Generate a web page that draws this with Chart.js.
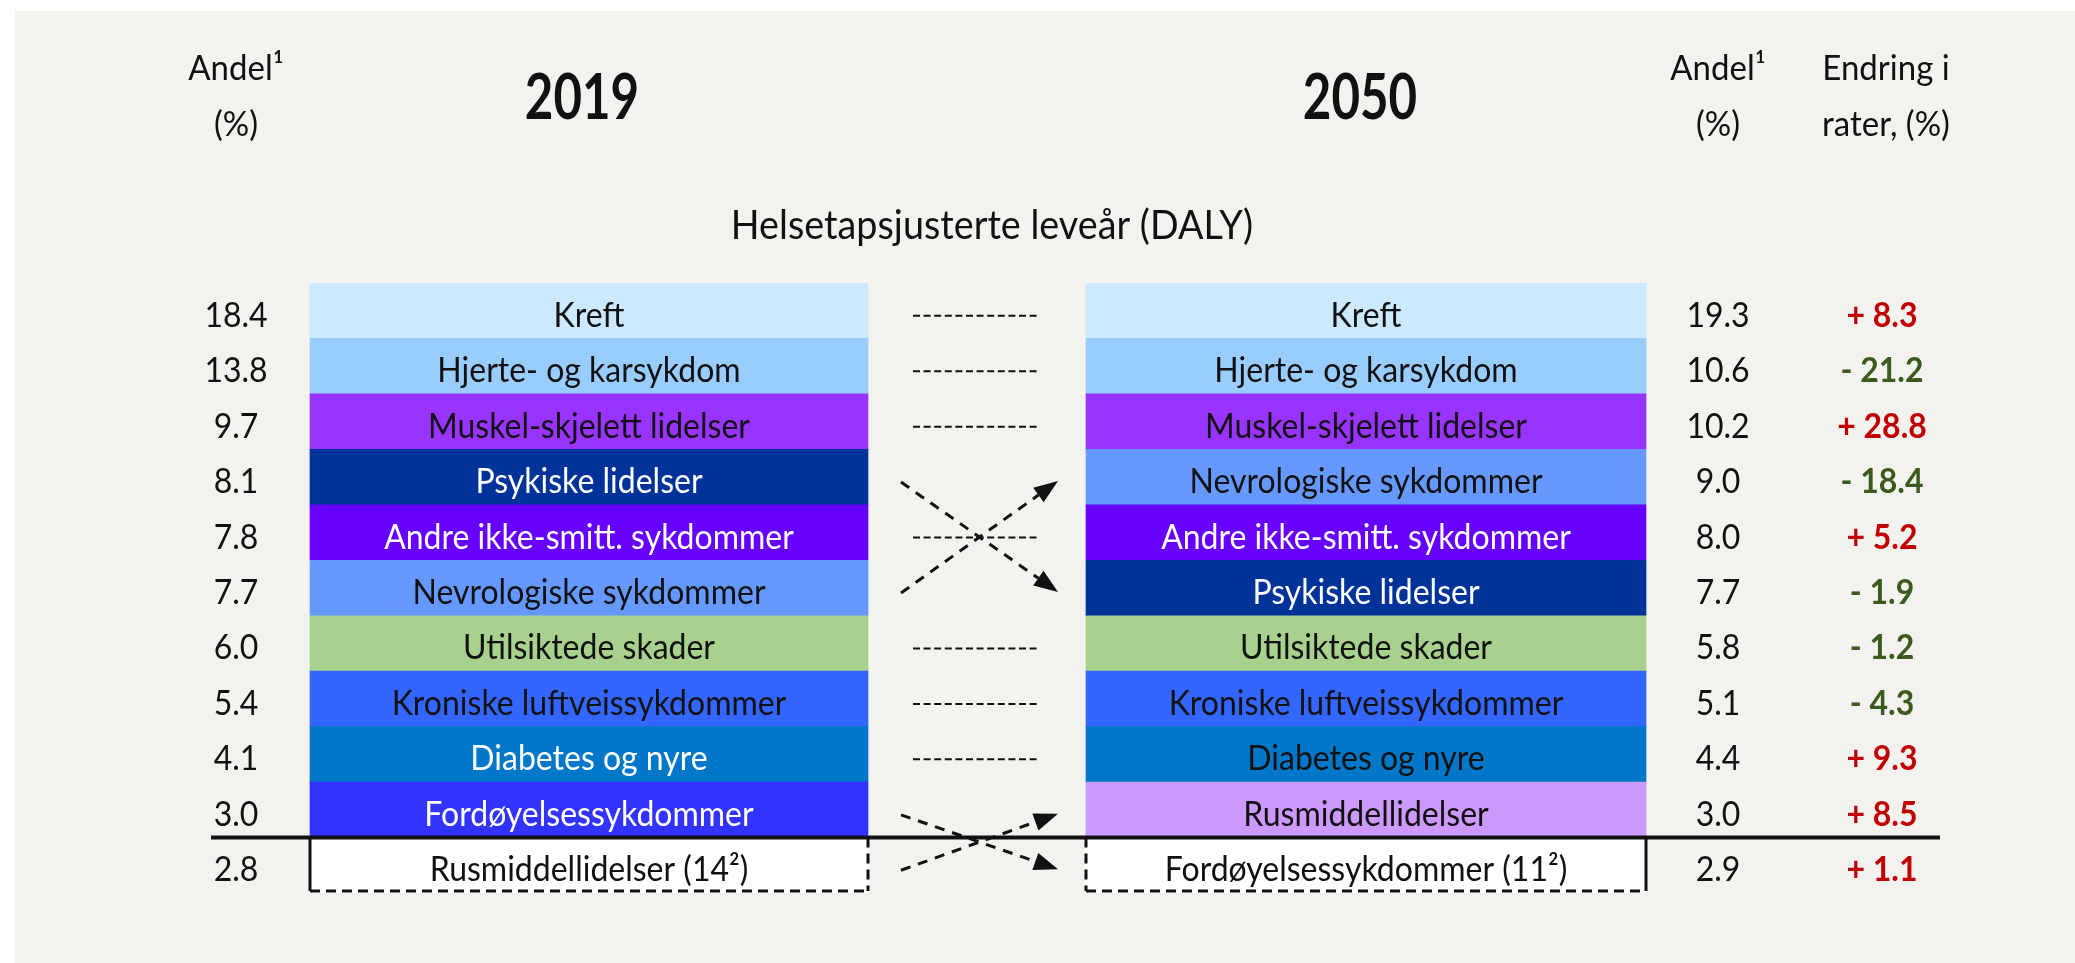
<!DOCTYPE html>
<html><head><meta charset="utf-8">
<script src="https://cdn.jsdelivr.net/npm/chart.js@4/dist/chart.umd.min.js"></script>
<style>html,body{margin:0;padding:0;background:#fff;}canvas{display:block;}</style>
</head><body>
<canvas id="c" width="2075" height="963"></canvas>
<script>
// ---- data ----
const causes2019 = ["Kreft","Hjerte- og karsykdom","Muskel-skjelett lidelser","Psykiske lidelser","Andre ikke-smitt. sykdommer","Nevrologiske sykdommer","Utilsiktede skader","Kroniske luftveissykdommer","Diabetes og nyre","Fordøyelsessykdommer","Rusmiddellidelser"];
const rankNote2019 = ["","","","","","","","","","","14²"];
const share2019 = [18.4,13.8,9.7,8.1,7.8,7.7,6.0,5.4,4.1,3.0,2.8];
const causes2050 = ["Kreft","Hjerte- og karsykdom","Muskel-skjelett lidelser","Nevrologiske sykdommer","Andre ikke-smitt. sykdommer","Psykiske lidelser","Utilsiktede skader","Kroniske luftveissykdommer","Diabetes og nyre","Rusmiddellidelser","Fordøyelsessykdommer"];
const rankNote2050 = ["","","","","","","","","","","11²"];
const share2050 = [19.3,10.6,10.2,9.0,8.0,7.7,5.8,5.1,4.4,3.0,2.9];
const rateChange = [8.3,-21.2,28.8,-18.4,5.2,-1.9,-1.2,-4.3,9.3,8.5,1.1];
const rowLabels = ["1","2","3","4","5","6","7","8","9","10","11"];
const headerShare = ["Andel¹","(%)"];
const headerChange = ["Endring i","rater, (%)"];
const yearLeft = "2019", yearRight = "2050";
const subtitle = "Helsetapsjusterte leveår (DALY)";

// ---- styles ----
const fill2019 = ["#cce9ff","#99ccff","#9933ff","#003399","#6600ff","#6699ff","#a9d18e","#3366ff","#0077c8","#3333ff","#ffffff"];
const fill2050 = ["#cce9ff","#99ccff","#9933ff","#6699ff","#6600ff","#003399","#a9d18e","#3366ff","#0077c8","#cc99ff","#ffffff"];
const ink2019 = ["#111","#111","#111","#fff","#fff","#111","#111","#111","#fff","#fff","#111"];
const ink2050 = ["#111","#111","#111","#111","#fff","#fff","#111","#111","#111","#111","#111"];
const BOX_LEFT = [310, 868];
const BOX_RIGHT = [1086, 1646];
const X_SHARE_L = 236, X_SHARE_R = 1718, X_CHANGE = 1882;
const FONT = "Lato";
const BG = "#f3f2ef";

function stretchedText(ctx, txt, x, y, sx, sy){
  ctx.save();
  ctx.translate(x, y);
  ctx.scale(sx, sy);
  ctx.fillText(txt, 0, 0);
  ctx.restore();
}

function build(){
  const ctxEl = document.getElementById('c');
  const tableDeco = {
    id:'tableDeco',
    beforeDraw(chart){
      const ctx = chart.ctx;
      ctx.save();
      ctx.fillStyle = '#fff'; ctx.fillRect(0,0,chart.width,chart.height);
      ctx.fillStyle = BG; ctx.fillRect(15,11,chart.width-15,chart.height-11);
      ctx.restore();
    },
    afterDatasetsDraw(chart){
      const ctx = chart.ctx;
      const ys = chart.scales.y;
      const rowY = i => ys.getPixelForValue(i);
      const SY = 1.07;
      ctx.save();
      ctx.textAlign = 'center';
      ctx.textBaseline = 'middle';
      // headers
      ctx.fillStyle = '#111';
      ctx.font = `33px ${FONT}`;
      stretchedText(ctx, headerShare[0], X_SHARE_L, 69, 1, SY);
      stretchedText(ctx, headerShare[1], X_SHARE_L, 125, 1, SY);
      stretchedText(ctx, headerShare[0], X_SHARE_R, 69, 1, SY);
      stretchedText(ctx, headerShare[1], X_SHARE_R, 125, 1, SY);
      stretchedText(ctx, headerChange[0], X_CHANGE+4, 69, 1, SY);
      stretchedText(ctx, headerChange[1], X_CHANGE+4, 125, 1, SY);
      ctx.font = `37px ${FONT}`;
      stretchedText(ctx, subtitle, 992, 226, 1.02, SY);
      ctx.font = `bold 56px ${FONT}`;
      stretchedText(ctx, yearLeft, (BOX_LEFT[0]+BOX_LEFT[1])/2 - 7, 99, 0.88, 1.12);
      stretchedText(ctx, yearRight, (BOX_RIGHT[0]+BOX_RIGHT[1])/2 - 6, 99, 0.88, 1.12);

      const m0 = chart.getDatasetMeta(0), m1 = chart.getDatasetMeta(1);
      // bar texts and values
      for(let i=0;i<causes2019.length;i++){
        const y = rowY(i)+5;
        const e0 = m0.data[i], e1 = m1.data[i];
        ctx.font = `32px ${FONT}`;
        ctx.fillStyle = ink2019[i];
        stretchedText(ctx, causes2019[i] + (rankNote2019[i] ? ` (${rankNote2019[i]})` : ''), (e0.x+e0.base)/2, y, 1, SY);
        ctx.fillStyle = ink2050[i];
        stretchedText(ctx, causes2050[i] + (rankNote2050[i] ? ` (${rankNote2050[i]})` : ''), (e1.x+e1.base)/2, y, 1, SY);
        ctx.fillStyle = '#111';
        stretchedText(ctx, share2019[i].toFixed(1), X_SHARE_L, y, 1, SY);
        stretchedText(ctx, share2050[i].toFixed(1), X_SHARE_R, y, 1, SY);
        const v = rateChange[i];
        ctx.font = `bold 32px ${FONT}`;
        ctx.fillStyle = v > 0 ? '#c00000' : '#3a5a1e';
        stretchedText(ctx, (v>0?'+ ':'- ') + Math.abs(v).toFixed(1), X_CHANGE, y, 1, SY);
      }
      // dashed boxes for last row
      const last = causes2019.length-1;
      const boxes = [[m0.data[last],'left'],[m1.data[last],'right']];
      ctx.strokeStyle = '#111';
      ctx.lineWidth = 3;
      boxes.forEach(([e,solid])=>{
        const l = Math.min(e.x,e.base), r = Math.max(e.x,e.base);
        const t = e.y - e.height/2, b = e.y + e.height/2 - 2;
        ctx.setLineDash([]);
        ctx.beginPath();
        const sx = solid==='left' ? l : r;
        ctx.moveTo(sx,t); ctx.lineTo(sx,b); ctx.stroke();
        ctx.setLineDash([10,6]);
        ctx.beginPath();
        const dx = solid==='left' ? r : l;
        ctx.moveTo(dx,t); ctx.lineTo(dx,b); ctx.stroke();
        ctx.beginPath(); ctx.moveTo(l,b); ctx.lineTo(r,b); ctx.stroke();
      });
      // separator line
      const sepY = (rowY(last-1)+rowY(last))/2;
      ctx.setLineDash([]);
      ctx.lineWidth = 4;
      ctx.beginPath(); ctx.moveTo(211,sepY); ctx.lineTo(1940,sepY); ctx.stroke();

      // connectors
      ctx.fillStyle = '#111';
      for(let i=0;i<causes2019.length;i++){
        const j = causes2050.indexOf(causes2019[i]);
        const y1 = rowY(i)+5;
        if(j === i){
          ctx.setLineDash([7,3.6]);
          ctx.lineWidth = 2;
          ctx.beginPath(); ctx.moveTo(913,y1); ctx.lineTo(1040,y1); ctx.stroke();
        } else if(j >= 0){
          const y2 = rowY(j)+4;
          const x1 = 901, x2 = 1058;
          const ang = Math.atan2(y2-y1,x2-x1), L = 24, W = 9;
          const bx = x2 - L*Math.cos(ang), by = y2 - L*Math.sin(ang);
          ctx.setLineDash([10,8]);
          ctx.lineWidth = 3;
          ctx.beginPath(); ctx.moveTo(x1,y1); ctx.lineTo(bx,by); ctx.stroke();
          ctx.setLineDash([]);
          ctx.beginPath();
          ctx.moveTo(x2,y2);
          ctx.lineTo(bx + W*Math.sin(ang), by - W*Math.cos(ang));
          ctx.lineTo(bx - W*Math.sin(ang), by + W*Math.cos(ang));
          ctx.closePath(); ctx.fill();
        }
      }
      ctx.restore();
    }
  };

  new Chart(ctxEl, {
    type:'bar',
    data:{
      labels: rowLabels,
      datasets:[
        {label:yearLeft, data: causes2019.map(()=>BOX_LEFT), backgroundColor: fill2019, borderWidth:0},
        {label:yearRight, data: causes2050.map(()=>BOX_RIGHT), backgroundColor: fill2050, borderWidth:0}
      ]
    },
    options:{
      indexAxis:'y',
      responsive:false,
      animation:false,
      devicePixelRatio:1,
      datasets:{bar:{barPercentage:1, categoryPercentage:1, grouped:false}},
      layout:{padding:{top:283,bottom:70,left:0,right:0}},
      scales:{
        x:{type:'linear', min:0, max:2075, display:false},
        y:{type:'category', offset:true, display:false}
      },
      plugins:{legend:{display:false}, tooltip:{enabled:false}, title:{display:false}}
    },
    plugins:[tableDeco]
  });
}
Promise.all([document.fonts.load(`32px ${FONT}`), document.fonts.load(`bold 56px ${FONT}`)]).then(build, build);
</script>
</body></html>
